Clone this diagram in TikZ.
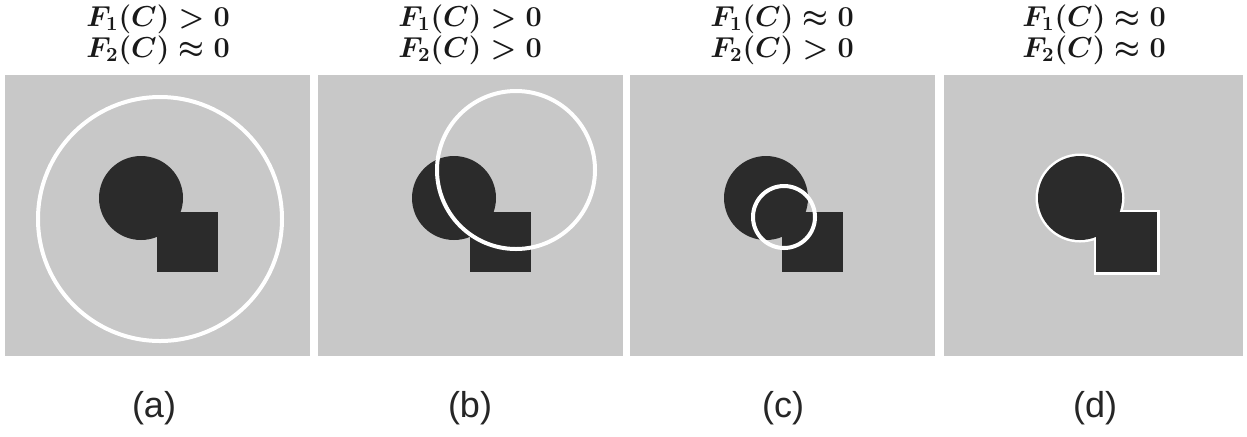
\documentclass[tikz,border=0pt]{standalone}
\usepackage{fontspec}
\newfontfamily\labfont{Liberation Sans}
\definecolor{bgray}{RGB}{200,200,200}
\definecolor{dshape}{RGB}{43,43,43}
\tikzset{
  panel/.style={fill=bgray},
  ring/.style={draw=white,line width=2pt},
  title/.style={font=\fontsize{14.5}{16}\selectfont\boldmath,inner sep=0pt,text=black!90},
  sublab/.style={font=\labfont\fontsize{18}{21}\selectfont,text=black!85,inner sep=0pt}
}
\newcommand\drawdarkshapes{%
  \fill[dshape] (136,123) circle[radius=21pt];
  \fill[dshape] (152,137) rectangle (213,197);
}
\begin{document}
\begin{tikzpicture}[x=0.5pt,y=-0.5pt]
\useasboundingbox[fill=white] (0,0) rectangle (1247,436);
% panel (a)
\begin{scope}[shift={(5,75)}]
  \fill[panel] (0,0) rectangle (305,281);
  \drawdarkshapes
  \draw[ring] (155,144) circle[radius=61pt];
\end{scope}
% panel (b)
\begin{scope}[shift={(318,75)}]
  \fill[panel] (0,0) rectangle (305,281);
  \drawdarkshapes
  \draw[ring] (198,95) circle[radius=39.5pt];
\end{scope}
% panel (c)
\begin{scope}[shift={(630,75)}]
  \fill[panel] (0,0) rectangle (305,281);
  \drawdarkshapes
  \draw[ring] (154,142) circle[radius=15.5pt];
\end{scope}
% panel (d)
\begin{scope}[shift={(944,75)}]
  \fill[panel] (0,0) rectangle (299,281);
  \draw[ring,line width=2.5pt] (136,123) circle[radius=21pt];
  \draw[ring,line width=2.5pt] (152,137) rectangle (213,197);
  \drawdarkshapes
\end{scope}
% titles
\node[title] (ta1) at (158,19) {$F_1(C) > 0$};
\node[title] (ta2) at (158,50) {$F_2(C) \approx 0$};
\node[title] (tb1) at (470,19) {$F_1(C) > 0$};
\node[title] (tb2) at (470,50) {$F_2(C) > 0$};
\node[title] (tc1) at (782,19) {$F_1(C) \approx 0$};
\node[title] (tc2) at (782,50) {$F_2(C) > 0$};
\node[title] (td1) at (1094,19) {$F_1(C) \approx 0$};
\node[title] (td2) at (1094,50) {$F_2(C) \approx 0$};
% sub-labels
\node[sublab] (la) at (154,408) {(a)};
\node[sublab] (lb) at (470,408) {(b)};
\node[sublab] (lc) at (783,408) {(c)};
\node[sublab] (ld) at (1095,408) {(d)};
\end{tikzpicture}
\end{document}
